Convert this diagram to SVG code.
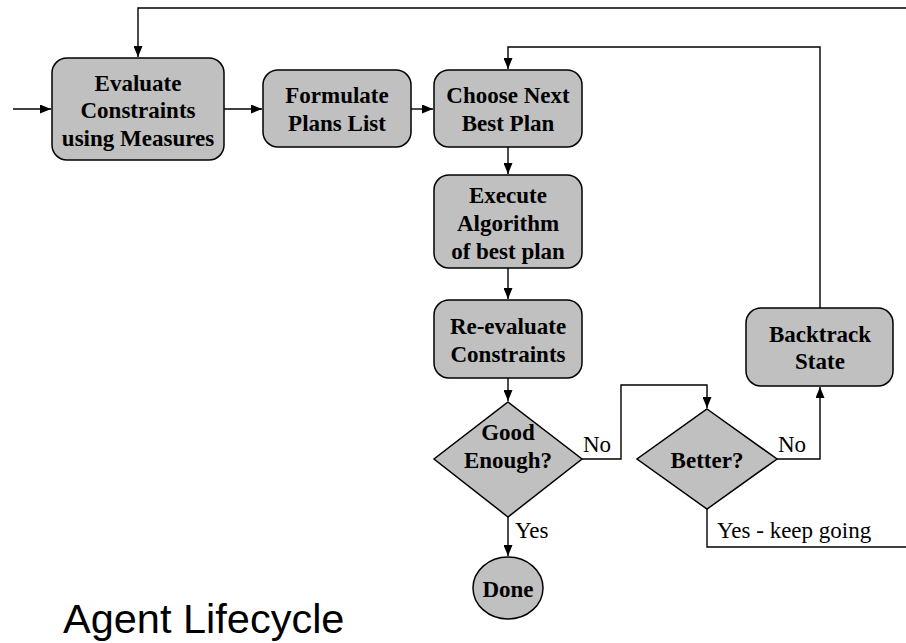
<svg xmlns="http://www.w3.org/2000/svg" width="906" height="643" viewBox="0 0 906 643">
<style>
.n{fill:#c0c0c0;stroke:#000;stroke-width:1.5}
.t{font-family:"Liberation Serif","Times New Roman",serif;font-size:23px;font-weight:bold;text-anchor:middle;fill:#000}
.l{font-family:"Liberation Serif","Times New Roman",serif;font-size:23px;fill:#000}
.c{fill:none;stroke:#000;stroke-width:1.4}
</style>
<defs>
<marker id="a" markerWidth="11" markerHeight="9" refX="11" refY="4.5" orient="auto" markerUnits="userSpaceOnUse">
<path d="M0,0 L11,4.5 L0,9 Z" fill="#000"/>
</marker>
</defs>
<rect width="906" height="643" fill="#fff"/>
<g id="connectors">
<path class="c" d="M13,109 H51" marker-end="url(#a)"/>
<path class="c" d="M224,109 H262" marker-end="url(#a)"/>
<path class="c" d="M411,109 H433" marker-end="url(#a)"/>
<path class="c" d="M906,8 H138 V57" marker-end="url(#a)"/>
<path class="c" d="M820,308 V47 H508 V69" marker-end="url(#a)"/>
<path class="c" d="M508,147 V174" marker-end="url(#a)"/>
<path class="c" d="M508,268 V299" marker-end="url(#a)"/>
<path class="c" d="M508,378 V401" marker-end="url(#a)"/>
<path class="c" d="M582,459 H621 V385 H707 V408" marker-end="url(#a)"/>
<path class="c" d="M777,459 H820 V387" marker-end="url(#a)"/>
<path class="c" d="M508,517 V556" marker-end="url(#a)"/>
<path class="c" d="M707,509 V547 H906"/>
<text class="l" x="583" y="452">No</text>
<text class="l" x="778" y="452">No</text>
<text class="l" x="515" y="538">Yes</text>
<text class="l" x="717" y="538">Yes - keep going</text>
</g>
<g id="evaluate">
<rect class="n" x="52" y="58" width="172" height="102" rx="15"/>
<text class="t" x="138" y="90.5">Evaluate</text>
<text class="t" x="138" y="118">Constraints</text>
<text class="t" x="138" y="145.5">using Measures</text>
</g>
<g id="formulate">
<rect class="n" x="263" y="70" width="148" height="77" rx="15"/>
<text class="t" x="337" y="103">Formulate</text>
<text class="t" x="337" y="131">Plans List</text>
</g>
<g id="choose">
<rect class="n" x="434" y="70" width="148" height="77" rx="15"/>
<text class="t" x="508" y="103">Choose Next</text>
<text class="t" x="508" y="131">Best Plan</text>
</g>
<g id="execute">
<rect class="n" x="434" y="175" width="148" height="93" rx="15"/>
<text class="t" x="508" y="203">Execute</text>
<text class="t" x="508" y="231">Algorithm</text>
<text class="t" x="508" y="259">of best plan</text>
</g>
<g id="reevaluate">
<rect class="n" x="434" y="300" width="148" height="78" rx="15"/>
<text class="t" x="508" y="333.5">Re-evaluate</text>
<text class="t" x="508" y="361.5">Constraints</text>
</g>
<g id="backtrack">
<rect class="n" x="746" y="308" width="147" height="78" rx="15"/>
<text class="t" x="820" y="341.5">Backtrack</text>
<text class="t" x="820" y="369">State</text>
</g>
<g id="goodenough">
<polygon class="n" points="508,402 582,459 508,517 434,459"/>
<text class="t" x="508" y="440">Good</text>
<text class="t" x="508" y="468">Enough?</text>
</g>
<g id="better">
<polygon class="n" points="707,409 777,459 707,509 637,459"/>
<text class="t" x="707" y="467.5">Better?</text>
</g>
<g id="done">
<ellipse class="n" cx="508" cy="588" rx="35" ry="31"/>
<text class="t" x="508" y="596.5">Done</text>
</g>
<text x="63" y="633" font-family="'Liberation Sans',Arial,sans-serif" font-size="41.5" fill="#000">Agent Lifecycle</text>
</svg>
